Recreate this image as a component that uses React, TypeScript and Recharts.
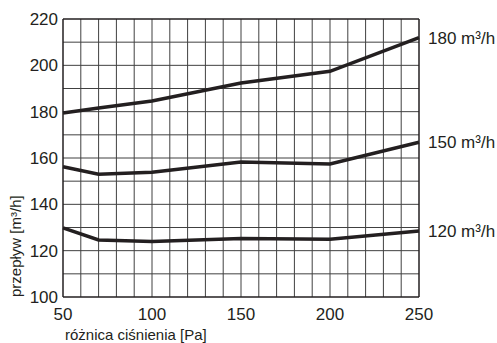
import React from 'react';
import { LineChart, Line, XAxis, YAxis, CartesianGrid, ReferenceLine, Label } from 'recharts';

const pressure = [50, 70, 100, 150, 200, 250];
const flow180 = [179.4, 181.6, 184.6, 192.4, 197.4, 212];
const flow150 = [156.2, 153, 153.8, 158.3, 157.4, 166.8];
const flow120 = [129.8, 124.6, 124, 125.3, 124.9, 128.5];
const seriesLabels = ['180 m³/h', '150 m³/h', '120 m³/h'];
const xTicks = [50, 100, 150, 200, 250];
const yTicks = [100, 120, 140, 160, 180, 200, 220];
const xGrid = [60, 70, 80, 90, 100, 110, 120, 130, 140, 150, 160, 170, 180, 190, 200, 210, 220, 230, 240];
const yGrid = [110, 120, 130, 140, 150, 160, 170, 180, 190, 200, 210];
const xTitle = 'różnica ciśnienia [Pa]';
const yTitle = 'przepływ [m³/h]';

const data = pressure.map((p, i) => ({ p, a: flow180[i], b: flow150[i], c: flow120[i] }));
const last = pressure.length - 1;
const endValues = [flow180[last], flow150[last], flow120[last]];
const endTickFormatter = (v: number) => {
  let best = 0;
  endValues.forEach((e, i) => {
    if (Math.abs(e - v) < Math.abs(endValues[best] - v)) best = i;
  });
  return seriesLabels[best];
};

const FONT = 'Liberation Sans, Arial, sans-serif';
const INK = '#231f20';

export default function App() {
  return (
    <div style={{ position: 'absolute', left: 0, top: 0, width: 497, height: 343, background: '#fff', fontFamily: FONT }}>
      <LineChart
        width={497}
        height={343}
        data={data}
        margin={{ top: 19, right: 0, bottom: 0, left: 0 }}
        style={{ fontFamily: FONT }}
      >
        <CartesianGrid
          stroke="#404040"
          strokeWidth={1}
          horizontalValues={yGrid}
          verticalValues={xGrid}
        />
        <XAxis
          dataKey="p"
          type="number"
          domain={[50, 250]}
          ticks={xTicks}
          interval={0}
          height={46}
          tickLine={false}
          tickSize={0}
          tickMargin={11}
          axisLine={{ stroke: INK, strokeWidth: 1.5 }}
          tick={{ fill: INK, fontSize: 17, fontFamily: FONT }}
        >
          <Label
            content={(props: any) => {
              const vb = props.viewBox;
              return (
                <text x={vb.x + 2} y={340} fill={INK} style={{ fontFamily: FONT, fontSize: 15 }}>
                  {xTitle}
                </text>
              );
            }}
          />
        </XAxis>
        <YAxis
          type="number"
          domain={[100, 220]}
          ticks={yTicks}
          interval={0}
          width={63}
          tickLine={false}
          tickSize={0}
          tickMargin={5}
          axisLine={{ stroke: INK, strokeWidth: 1.5 }}
          tick={{ fill: INK, fontSize: 17, fontFamily: FONT }}
        >
          <Label
            content={() => (
              <text
                x={21}
                y={297}
                transform="rotate(-90 21 297)"
                fill={INK}
                style={{ fontFamily: FONT, fontSize: 15 }}
              >
                {yTitle}
              </text>
            )}
          />
        </YAxis>
        <YAxis
          yAxisId="end"
          orientation="right"
          type="number"
          domain={[100, 220]}
          allowDataOverflow
          ticks={endValues}
          interval={0}
          width={78}
          tickLine={false}
          tickSize={0}
          tickMargin={9}
          axisLine={false}
          tickFormatter={endTickFormatter}
          tick={{ fill: INK, fontSize: 17, fontFamily: FONT }}
        />
        <ReferenceLine y={220} stroke={INK} strokeWidth={1.5} />
        <ReferenceLine x={250} stroke={INK} strokeWidth={1.5} />
        <Line dataKey="a" stroke={INK} strokeWidth={3.5} dot={false} isAnimationActive={false} />
        <Line dataKey="b" stroke={INK} strokeWidth={3.5} dot={false} isAnimationActive={false} />
        <Line yAxisId="end" dataKey="c" stroke={INK} strokeWidth={3.5} dot={false} isAnimationActive={false} />
      </LineChart>
    </div>
  );
}
